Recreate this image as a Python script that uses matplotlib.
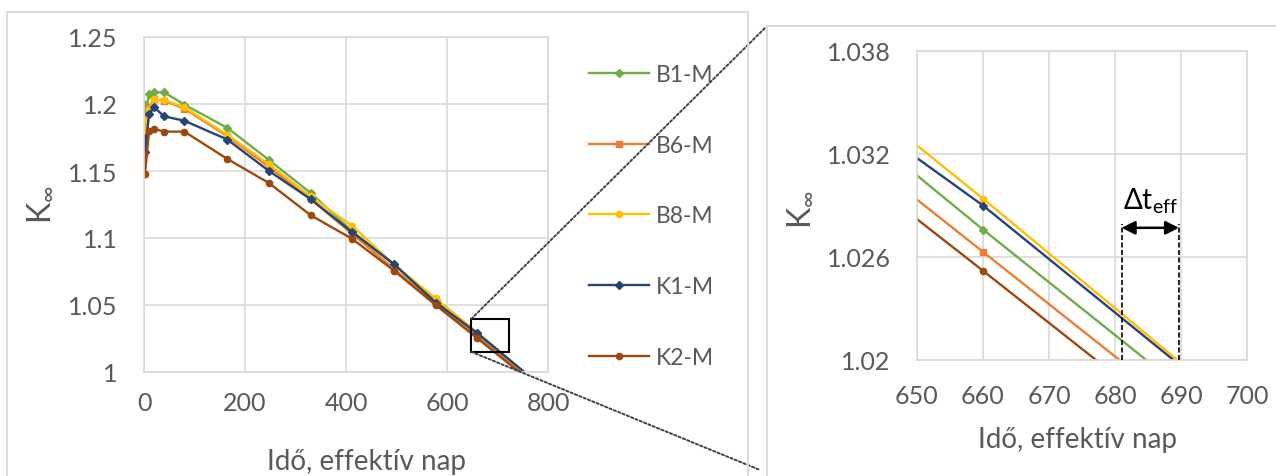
import matplotlib
matplotlib.use('Agg')
import matplotlib.pyplot as plt
from matplotlib.lines import Line2D
from matplotlib.patches import Rectangle, ConnectionPatch

plt.rcParams['font.family'] = ['Lato', 'DejaVu Sans']
plt.rcParams['mathtext.default'] = 'regular'

# ---- data ----
days = [0, 2, 10, 20, 40, 80, 165, 247.5, 330, 412.5, 495, 577.5, 660, 770]
series_names = ['B1-M', 'B6-M', 'B8-M', 'K1-M', 'K2-M']
b1_m = [1.200, 1.190, 1.2075, 1.2087, 1.2087, 1.1995, 1.1822, 1.1582, 1.1336, 1.1050, 1.0800, 1.0536, 1.0276, 0.9938]
b6_m = [1.190, 1.178, 1.1980, 1.2035, 1.2025, 1.1965, 1.1760, 1.1530, 1.1290, 1.1030, 1.0770, 1.0514, 1.0263, 0.9928]
b8_m = [1.188, 1.170, 1.1960, 1.2035, 1.2030, 1.1975, 1.1770, 1.1550, 1.1310, 1.1090, 1.0800, 1.0550, 1.0294, 0.9943]
k1_m = [1.175, 1.164, 1.1925, 1.1975, 1.1908, 1.1875, 1.1735, 1.1500, 1.1290, 1.1043, 1.0806, 1.0518, 1.0290, 0.9947]
k2_m = [1.163, 1.148, 1.1800, 1.1814, 1.1794, 1.1794, 1.1590, 1.1410, 1.1170, 1.0993, 1.0757, 1.0500, 1.0252, 0.9918]
series_values = [b1_m, b6_m, b8_m, k1_m, k2_m]

left_xticks = [0, 200, 400, 600, 800]
left_yticks = [1, 1.05, 1.1, 1.15, 1.2, 1.25]
left_ylabels = ['1', '1.05', '1.1', '1.15', '1.2', '1.25']
right_xticks = [650, 660, 670, 680, 690, 700]
right_yticks = [1.02, 1.026, 1.032, 1.038]
right_ylabels = ['1.02', '1.026', '1.032', '1.038']

zoom_box = (648, 1.0151, 722, 1.0396)
dt_start, dt_end = 681.0, 689.7

colors = ['#70AD47', '#ED7D31', '#FFC000', '#264478', '#9E480E']
markers = ['D', 's', 'o', 'D', 'o']
msizes = [4, 4, 4.5, 4, 4.5]

W, H = 1276, 477
fig = plt.figure(figsize=(W / 100, H / 100), dpi=100)
GRID = '#d9d9d9'
TXT = '#595959'
TICK_FS = 18
LABEL_FS = 20


def px_axes(x0, y0, x1, y1):
    return fig.add_axes([x0 / W, 1 - y1 / H, (x1 - x0) / W, (y1 - y0) / H])


def style(ax, xpad, ypad):
    for s in ax.spines.values():
        s.set_color(GRID)
        s.set_linewidth(1.2)
    ax.grid(True, color=GRID, linewidth=1.2)
    ax.set_axisbelow(True)
    ax.tick_params(length=0, labelsize=TICK_FS, labelcolor=TXT)
    ax.tick_params(axis='x', pad=xpad)
    ax.tick_params(axis='y', pad=ypad)


# ---- left chart ----
ax1 = px_axes(144, 38, 548, 373)
handles = []
for name, vals, c, m, ms in zip(series_names, series_values, colors, markers, msizes):
    h, = ax1.plot(days, vals, color=c, marker=m, markersize=ms, linewidth=1.7, label=name)
    handles.append(h)
ax1.set_xlim(0, 800)
ax1.set_ylim(1, 1.25)
ax1.set_xticks(left_xticks)
ax1.set_xticklabels([str(t) for t in left_xticks])
ax1.set_yticks(left_yticks)
ax1.set_yticklabels(left_ylabels)
style(ax1, 14, 19)

x0, y0, x1, y1 = zoom_box
ax1.add_patch(Rectangle((x0, y0), x1 - x0, y1 - y0, fill=False, edgecolor='black', linewidth=1.5, zorder=5))

leg = ax1.legend(handles=handles, loc='upper left', bbox_to_anchor=(589 / W, 1 - 65 / H),
                 bbox_transform=fig.transFigure, frameon=False, fontsize=16.5,
                 labelspacing=2.17, handlelength=2.62, handletextpad=0.28,
                 borderpad=0, borderaxespad=0)
for t in leg.get_texts():
    t.set_color(TXT)

fig.text(367 / W, 1 - 470 / H, 'Idő, effektív nap', ha='center', va='baseline', fontsize=LABEL_FS, color=TXT)
fig.text(40 / W, 1 - 205 / H, r'K$_{\infty}$', ha='center', va='center', rotation=90, fontsize=23, color=TXT)

# ---- right chart ----
ax2 = px_axes(917, 52, 1247, 361)
for name, vals, c, m, ms in zip(series_names, series_values, colors, markers, msizes):
    ax2.plot(days, vals, color=c, marker=m, markersize=ms, linewidth=1.7)
ax2.set_xlim(650, 700)
ax2.set_ylim(1.02, 1.038)
ax2.set_xticks(right_xticks)
ax2.set_xticklabels([str(t) for t in right_xticks])
ax2.set_yticks(right_yticks)
ax2.set_yticklabels(right_ylabels)
style(ax2, 17, 19)

y_top = 1.0279
for xd in (dt_start, dt_end):
    ax2.plot([xd, xd], [1.02, y_top], color='black', linestyle=(0, (3, 1.5)), linewidth=1.2, zorder=6)
ax2.annotate('', xy=(dt_end, 1.0277), xytext=(dt_start, 1.0277),
             arrowprops=dict(arrowstyle='<|-|>', color='black', lw=1.8, mutation_scale=20,
                             shrinkA=0, shrinkB=0), zorder=7)
ax2.text((dt_start + dt_end) / 2, 1.02885, r'$\Delta$t$_{eff}$', ha='center', va='baseline',
         fontsize=20, color='black')

fig.text(1077 / W, 1 - 448 / H, 'Idő, effektív nap', ha='center', va='baseline', fontsize=LABEL_FS, color=TXT)
fig.text(800 / W, 1 - 210 / H, r'K$_{\infty}$', ha='center', va='center', rotation=90, fontsize=23, color=TXT)

# ---- frames ----
def fline(xs, ys):
    fig.add_artist(Line2D([x / W for x in xs], [1 - y / H for y in ys], color=GRID, linewidth=1.3))

fline([7, 748], [13, 13])
fline([7, 7], [13, 477])
fline([748, 748], [13, 477])
fline([767, 1276], [27, 27])
fline([767, 767], [27, 477])

# ---- zoom connector lines ----
for xyA, xyB in [((x0, y1), (766 / W, 1 - 28 / H)), ((x0, y0), (760 / W, 1 - 471 / H))]:
    cp = ConnectionPatch(xyA=xyA, coordsA=ax1.transData, xyB=xyB, coordsB=fig.transFigure,
                         color='#404040', linestyle=(0, (1.2, 1.2)), linewidth=1.4)
    fig.add_artist(cp)

fig.savefig('out.png', dpi=100)
